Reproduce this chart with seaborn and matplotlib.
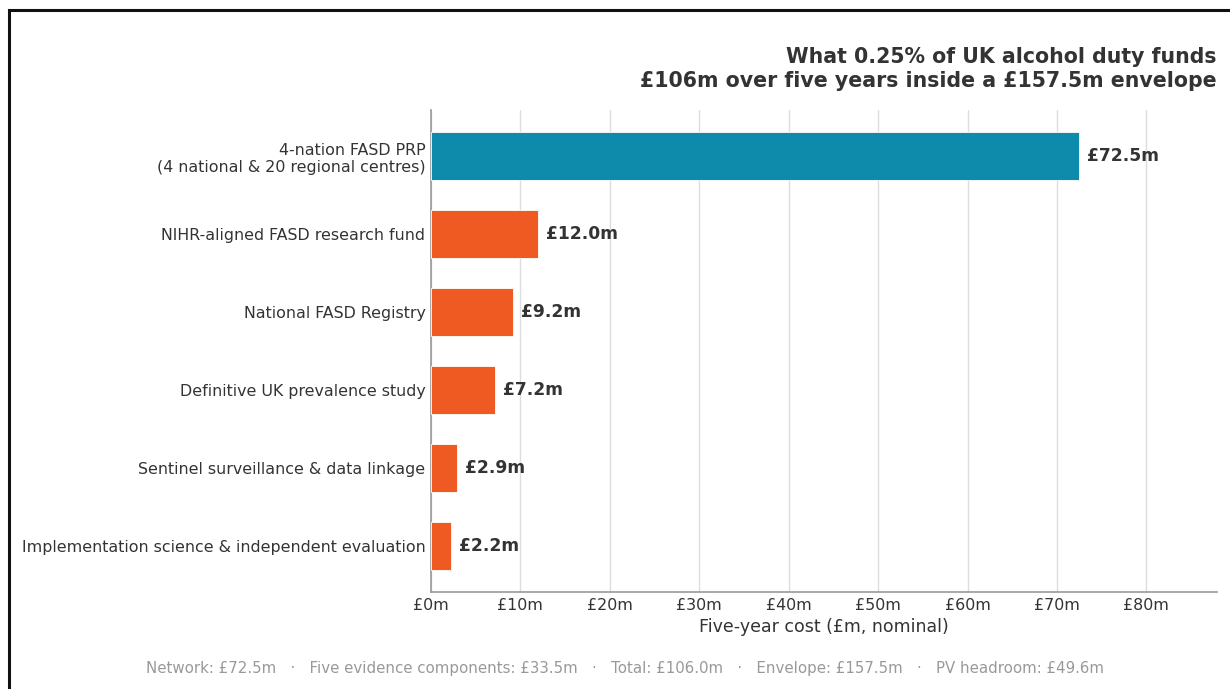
import matplotlib
matplotlib.use("Agg")
import matplotlib.pyplot as plt
from matplotlib.patches import Rectangle
import seaborn as sns
import pandas as pd

components = [
    "4-nation FASD PRP\n(4 national & 20 regional centres)",
    "NIHR-aligned FASD research fund",
    "National FASD Registry",
    "Definitive UK prevalence study",
    "Sentinel surveillance & data linkage",
    "Implementation science & independent evaluation",
]
costs = [72.5, 12.0, 9.2, 7.2, 2.9, 2.2]
groups = ["Network", "Evidence", "Evidence", "Evidence", "Evidence", "Evidence"]
xticks = [0, 10, 20, 30, 40, 50, 60, 70, 80]

palette = {"Network": "#0E8BAA", "Evidence": "#EE5A21"}

df = pd.DataFrame({"component": components, "cost": costs, "group": groups})

sns.set_theme(style="white")
plt.rcParams["font.family"] = ["DejaVu Sans"]

fig = plt.figure(figsize=(12.3, 6.89), dpi=100)
ax = fig.add_axes([431 / 1230, 1 - 592 / 689, (1217 - 431) / 1230, (592 - 110) / 689])

sns.barplot(data=df, x="cost", y="component", hue="group", palette=palette,
            dodge=False, legend=False, width=0.62, saturation=1, ax=ax,
            edgecolor="white", linewidth=0.6, zorder=3)

ax.set_xlim(0, 87.9)
ax.set_ylim(5.59, -0.59)
ax.set_xticks(xticks)
ax.set_xticklabels([f"£{t}m" for t in xticks])
ax.tick_params(axis="both", labelsize=11.4, colors="#333333", length=0, pad=4)
ax.set_xlabel("Five-year cost (£m, nominal)", fontsize=12.5, color="#333333", labelpad=4)
ax.set_ylabel("")

ax.grid(axis="x", color="#DDDDDD", linewidth=1.0, zorder=0)
ax.set_axisbelow(True)
for side in ["top", "right"]:
    ax.spines[side].set_visible(False)
for side in ["left", "bottom"]:
    ax.spines[side].set_color("#999999")
    ax.spines[side].set_linewidth(1.2)

for i, v in enumerate(costs):
    ax.text(v + 0.9, i, f"£{v:.1f}m", va="center", ha="left",
            fontsize=12.3, fontweight="bold", color="#333333")

fig.text(1217 / 1230, 1 - 69 / 689,
         "What 0.25% of UK alcohol duty funds\n£106m over five years inside a £157.5m envelope",
         ha="right", va="center", fontsize=14.8, fontweight="bold", color="#333333",
         linespacing=1.25)

footer = "   ·   ".join([
    "Network: £72.5m",
    "Five evidence components: £33.5m",
    "Total: £106.0m",
    "Envelope: £157.5m",
    "PV headroom: £49.6m",
])
fig.text(625 / 1230, 1 - 668 / 689, footer, ha="center", va="center",
         fontsize=10.8, color="#999999")

# figure frame
fig.patches.append(Rectangle((8.5 / 1230, -0.1), 1.2, 1 - 10 / 689 + 0.1,
                             transform=fig.transFigure, fill=False,
                             edgecolor="#111111", linewidth=2.2, clip_on=False))

fig.savefig("out.png", dpi=100)
